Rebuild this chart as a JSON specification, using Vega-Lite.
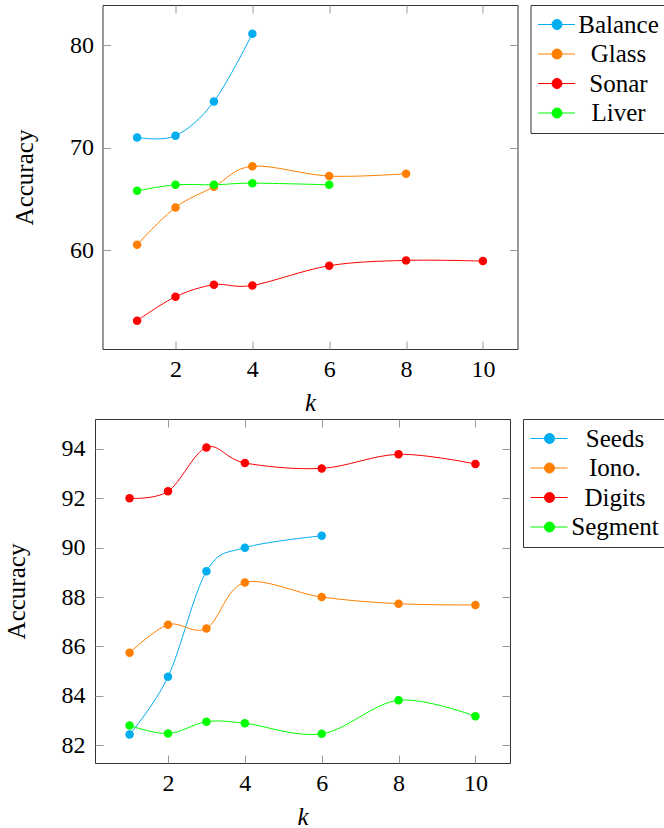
{
  "$schema": "https://vega.github.io/schema/vega-lite/v6.json",
  "padding": {"left": 3, "top": 4, "right": 0, "bottom": 0},
  "datasets": {
    "top": [
      {"k": 1, "acc": 71.0, "ds": "Balance"},
      {"k": 2, "acc": 71.17, "ds": "Balance"},
      {"k": 3, "acc": 74.5, "ds": "Balance"},
      {"k": 4, "acc": 81.1, "ds": "Balance"},
      {"k": 1, "acc": 60.55, "ds": "Glass"},
      {"k": 2, "acc": 64.19, "ds": "Glass"},
      {"k": 3, "acc": 66.2, "ds": "Glass"},
      {"k": 4, "acc": 68.2, "ds": "Glass"},
      {"k": 6, "acc": 67.24, "ds": "Glass"},
      {"k": 8, "acc": 67.47, "ds": "Glass"},
      {"k": 1, "acc": 53.16, "ds": "Sonar"},
      {"k": 2, "acc": 55.49, "ds": "Sonar"},
      {"k": 3, "acc": 56.66, "ds": "Sonar"},
      {"k": 4, "acc": 56.59, "ds": "Sonar"},
      {"k": 6, "acc": 58.51, "ds": "Sonar"},
      {"k": 8, "acc": 59.03, "ds": "Sonar"},
      {"k": 10, "acc": 58.96, "ds": "Sonar"},
      {"k": 1, "acc": 65.81, "ds": "Liver"},
      {"k": 2, "acc": 66.39, "ds": "Liver"},
      {"k": 3, "acc": 66.39, "ds": "Liver"},
      {"k": 4, "acc": 66.55, "ds": "Liver"},
      {"k": 6, "acc": 66.39, "ds": "Liver"}
    ],
    "bottom": [
      {"k": 1, "acc": 82.43, "ds": "Seeds"},
      {"k": 2, "acc": 84.77, "ds": "Seeds"},
      {"k": 3, "acc": 89.04, "ds": "Seeds"},
      {"k": 4, "acc": 90.0, "ds": "Seeds"},
      {"k": 6, "acc": 90.48, "ds": "Seeds"},
      {"k": 1, "acc": 85.74, "ds": "Iono."},
      {"k": 2, "acc": 86.88, "ds": "Iono."},
      {"k": 3, "acc": 86.73, "ds": "Iono."},
      {"k": 4, "acc": 88.59, "ds": "Iono."},
      {"k": 6, "acc": 88.0, "ds": "Iono."},
      {"k": 8, "acc": 87.73, "ds": "Iono."},
      {"k": 10, "acc": 87.68, "ds": "Iono."},
      {"k": 1, "acc": 92.0, "ds": "Digits"},
      {"k": 2, "acc": 92.28, "ds": "Digits"},
      {"k": 3, "acc": 94.06, "ds": "Digits"},
      {"k": 4, "acc": 93.43, "ds": "Digits"},
      {"k": 6, "acc": 93.21, "ds": "Digits"},
      {"k": 8, "acc": 93.78, "ds": "Digits"},
      {"k": 10, "acc": 93.39, "ds": "Digits"},
      {"k": 1, "acc": 82.8, "ds": "Segment"},
      {"k": 2, "acc": 82.47, "ds": "Segment"},
      {"k": 3, "acc": 82.95, "ds": "Segment"},
      {"k": 4, "acc": 82.89, "ds": "Segment"},
      {"k": 6, "acc": 82.46, "ds": "Segment"},
      {"k": 8, "acc": 83.82, "ds": "Segment"},
      {"k": 10, "acc": 83.17, "ds": "Segment"}
    ]
  },
  "vconcat": [
    {
      "name": "top",
      "width": 415,
      "height": 344,
      "data": {"name": "top"},
      "layer": [
        {
          "mark": {"type": "line", "interpolate": "cardinal", "strokeWidth": 1},
          "encoding": {
            "x": {"field": "k", "type": "quantitative", "scale": {"domain": [0.1, 10.9], "nice": false, "zero": false},
                  "axis": {"values": [2, 4, 6, 8, 10], "labelPadding": 16, "labelFont": "Liberation Serif", "title": "k", "titleFont": "Liberation Serif", "titleFontStyle": "italic", "titlePadding": 9}},
            "y": {"field": "acc", "type": "quantitative", "scale": {"domain": [50.4, 83.9], "nice": false, "zero": false},
                  "axis": {"values": [60, 70, 80], "labelPadding": 17, "labelFont": "Liberation Serif", "title": "Accuracy", "titleFont": "Liberation Serif", "titlePadding": 32}},
            "color": {"field": "ds", "type": "nominal", "sort": ["Balance", "Glass", "Sonar", "Liver"],
                      "scale": {"domain": ["Balance", "Glass", "Sonar", "Liver"], "range": ["#00AEEF", "#FF8000", "#FF0000", "#00FF00"]},
                      "legend": {"title": null, "labelOffset": 56, "labelFont": "Liberation Serif",
                                 "encode": {"symbols": {"update": {"stroke": {"scale": "top_color", "field": "value"}, "fill": {"scale": "top_color", "field": "value"}, "opacity": {"value": 1}}}}}}
          }
        },
        {
          "mark": {"type": "point", "filled": true, "size": 72, "opacity": 1},
          "encoding": {
            "x": {"field": "k", "type": "quantitative", "axis": null},
            "y": {"field": "acc", "type": "quantitative", "axis": null},
            "color": {"field": "ds", "type": "nominal", "sort": ["Balance", "Glass", "Sonar", "Liver"],
                      "legend": {"title": null, "labelOffset": 56, "labelFont": "Liberation Serif",
                                 "encode": {"symbols": {"update": {"stroke": {"scale": "top_color", "field": "value"}, "fill": {"scale": "top_color", "field": "value"}, "opacity": {"value": 1}}}}}}
          }
        },
        {
          "mark": {"type": "point", "opacity": 0},
          "encoding": {
            "x": {"field": "k", "type": "quantitative", "axis": {"orient": "top", "values": [2, 4, 6, 8, 10], "labels": false, "title": null}},
            "y": {"field": "acc", "type": "quantitative", "axis": {"orient": "right", "values": [60, 70, 80], "labels": false, "title": null}}
          }
        }
      ],
      "resolve": {"axis": {"x": "independent", "y": "independent"}}
    },
    {
      "hconcat": [
        {
          "name": "bot",
          "width": 415,
          "height": 344,
          "data": {"name": "bottom"},
          "layer": [
            {
              "mark": {"type": "line", "interpolate": "cardinal", "strokeWidth": 1},
              "encoding": {
                "x": {"field": "k", "type": "quantitative", "scale": {"domain": [0.1, 10.9], "nice": false, "zero": false},
                      "axis": {"values": [2, 4, 6, 8, 10], "labelPadding": 16, "labelFont": "Liberation Serif", "title": "k", "titleFont": "Liberation Serif", "titleFontStyle": "italic", "titlePadding": 9}},
                "y": {"field": "acc", "type": "quantitative", "scale": {"domain": [81.28, 95.21], "nice": false, "zero": false},
                      "axis": {"values": [82, 84, 86, 88, 90, 92, 94], "labelPadding": 18, "labelFont": "Liberation Serif", "title": "Accuracy", "titleFont": "Liberation Serif", "titlePadding": 32}},
                "color": {"field": "ds", "type": "nominal", "sort": ["Seeds", "Iono.", "Digits", "Segment"],
                          "scale": {"domain": ["Seeds", "Iono.", "Digits", "Segment"], "range": ["#00AEEF", "#FF8000", "#FF0000", "#00FF00"]},
                          "legend": {"title": null, "labelOffset": 60, "labelFont": "Liberation Serif",
                                     "encode": {"symbols": {"update": {"stroke": {"scale": "bot_color", "field": "value"}, "fill": {"scale": "bot_color", "field": "value"}, "opacity": {"value": 1}}}}}}
              }
            },
            {
              "mark": {"type": "point", "filled": true, "size": 72, "opacity": 1},
              "encoding": {
                "x": {"field": "k", "type": "quantitative", "axis": null},
                "y": {"field": "acc", "type": "quantitative", "axis": null},
                "color": {"field": "ds", "type": "nominal", "sort": ["Seeds", "Iono.", "Digits", "Segment"],
                          "legend": {"title": null, "labelOffset": 60, "labelFont": "Liberation Serif",
                                     "encode": {"symbols": {"update": {"stroke": {"scale": "bot_color", "field": "value"}, "fill": {"scale": "bot_color", "field": "value"}, "opacity": {"value": 1}}}}}}
              }
            },
            {
              "mark": {"type": "point", "opacity": 0},
              "encoding": {
                "x": {"field": "k", "type": "quantitative", "axis": {"orient": "top", "values": [2, 4, 6, 8, 10], "labels": false, "title": null}},
                "y": {"field": "acc", "type": "quantitative", "axis": {"orient": "right", "values": [82, 84, 86, 88, 90, 92, 94], "labels": false, "title": null}}
              }
            }
          ],
          "resolve": {"axis": {"x": "independent", "y": "independent"}}
        },
        {
          "name": "spacer",
          "width": 8,
          "height": 10,
          "data": {"values": [{}]},
          "mark": {"type": "point", "opacity": 0},
          "view": {"stroke": null}
        }
      ],
      "spacing": 0,
      "resolve": {"scale": {"color": "independent"}, "legend": {"color": "independent"}}
    }
  ],
  "spacing": 2,
  "center": true,
  "resolve": {"scale": {"color": "independent"}, "legend": {"color": "independent"}},
  "config": {
    "font": "Liberation Serif",
    "style": {"guide-label": {"font": "Liberation Serif"}, "guide-title": {"font": "Liberation Serif"}},
    "view": {"stroke": "#333", "strokeWidth": 1},
    "axis": {"domain": false, "grid": false, "ticks": true, "tickColor": "#999", "tickSize": -8, "tickWidth": 1,
             "labelFont": "Liberation Serif", "labelFontSize": 24, "labelColor": "black",
             "titleFont": "Liberation Serif", "titleFontSize": 25, "titleFontWeight": "normal", "titleColor": "black"},
    "legend": {"orient": "right", "offset": 12, "padding": 7, "strokeColor": "#333", "fillColor": "white", "cornerRadius": 0,
               "labelFont": "Liberation Serif", "labelFontSize": 25, "labelColor": "black", "labelAlign": "center", "labelBaseline": "middle",
               "labelLimit": 0, "symbolType": "M-2.4,0L5,0M0.4,0A1,1,0,1,1,2.4,0A1,1,0,1,1,0.4,0Z", "symbolSize": 100,
               "symbolStrokeWidth": 1, "rowPadding": 3.5}
  }
}
